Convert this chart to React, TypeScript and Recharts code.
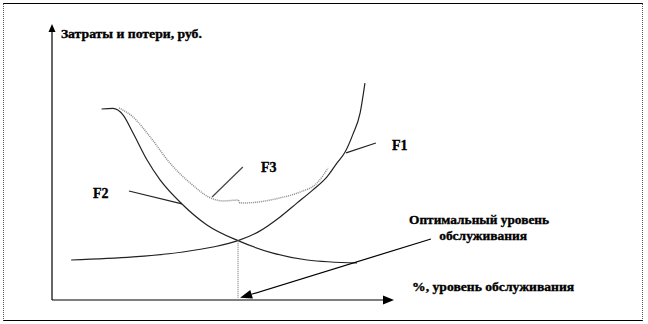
import { LineChart, Line, XAxis, YAxis, ReferenceLine, ReferenceDot } from 'recharts';

// service level (%) and costs (rub.)
const f1Level = [5.6, 23.7, 38.3, 47.1, 54.4, 60.2, 66.7, 71.6, 76.3, 80.4, 83.3, 85.7, 88.0, 90.1, 91.5];
const f1Cost = [14.5, 15.6, 17.4, 19.2, 21.5, 24.6, 30.1, 35.1, 39.9, 44.6, 49.6, 53.6, 60.1, 67.8, 78.6];

const f2Level = [14.5, 17.8, 20.8, 23.7, 27.8, 31.6, 38.0, 45.3, 54.4, 64.6, 74.6, 89.2];
const f2Cost = [69.2, 69.4, 67.0, 60.5, 50.7, 43.5, 34.8, 27.2, 21.5, 17.0, 14.5, 13.4];

const f3Level = [19.6, 23.7, 28.7, 34.5, 40.4, 47.1, 50.0, 54.4, 55.0, 60.2, 66.7, 72.5, 77.5, 80.7];
const f3Cost = [69.6, 66.3, 59.1, 49.6, 42.4, 36.6, 35.9, 36.2, 35.1, 35.5, 37.0, 39.1, 42.4, 47.8];

const optimum = { level: 54.4, cost: 21.5 };

const yTitle = 'Затраты и потери, руб.';
const xTitle = '%, уровень  обслуживания';
const optimumText = ['Оптимальный уровень', 'обслуживания'];

const zip = (xs: number[], ys: number[]) => xs.map((level, i) => ({ level, cost: ys[i] }));
const f1 = zip(f1Level, f1Cost);
const f2 = zip(f2Level, f2Cost);
const f3 = zip(f3Level, f3Cost);

const FONT = '"Liberation Serif", "Times New Roman", serif';

// line with a filled arrowhead at the second point
const arrow = (len: number, half: number, color = '#000', width = 1.2) => (props: any) => {
  const { x1, y1, x2, y2 } = props;
  const a = Math.atan2(y2 - y1, x2 - x1);
  const bx = x2 - len * Math.cos(a);
  const by = y2 - len * Math.sin(a);
  const px = -Math.sin(a) * half;
  const py = Math.cos(a) * half;
  return (
    <g>
      <line x1={x1} y1={y1} x2={bx} y2={by} stroke={color} strokeWidth={width} />
      <polygon points={`${x2},${y2} ${bx + px},${by + py} ${bx - px},${by - py}`} fill={color} />
    </g>
  );
};

const textAt = (text: string, size: number, fit?: number) => (props: any) => (
  <text
    x={props.cx}
    y={props.cy}
    fontFamily={FONT}
    fontWeight="bold"
    fontSize={size}
    fill="#000"
    stroke="#000"
    strokeWidth={0.35}
    textLength={fit}
    lengthAdjust={fit ? 'spacingAndGlyphs' : undefined}
  >
    {text}
  </text>
);

export default function App() {
  return (
    <div style={{ position: 'absolute', left: 0, top: 0, width: 648, height: 324, background: '#fff' }}>
      <div
        style={{
          position: 'absolute',
          left: 3,
          top: 3,
          width: 638,
          height: 316,
          borderTop: '1.5px solid #000',
          borderBottom: '1.5px solid #000',
          borderLeft: '1px dotted #555',
          borderRight: '1px dotted #555',
        }}
      />
      <LineChart
        width={648}
        height={324}
        margin={{ top: 24, right: 254, bottom: 24, left: 52 }}
        style={{ position: 'absolute', left: 0, top: 0 }}
      >
        <XAxis type="number" dataKey="level" domain={[0, 100]} hide />
        <YAxis type="number" dataKey="cost" domain={[0, 100]} hide />

        {/* axes */}
        <ReferenceLine segment={[{ x: 0, y: 0 }, { x: 100, y: 0 }]} ifOverflow="visible" shape={arrow(11, 4.5)} />
        <ReferenceLine segment={[{ x: 0, y: 0 }, { x: 0, y: 100 }]} ifOverflow="visible" shape={arrow(8, 3.5)} />

        <Line data={f1} dataKey="cost" type="monotone" stroke="#222" strokeWidth={1.2} dot={false} isAnimationActive={false} />
        <Line data={f2} dataKey="cost" type="monotone" stroke="#222" strokeWidth={1.2} dot={false} isAnimationActive={false} />
        <Line data={f3} dataKey="cost" type="monotone" stroke="#888" strokeWidth={1.5} strokeDasharray="1 1" dot={false} isAnimationActive={false} />

        {/* optimum drop line and pointer */}
        <ReferenceLine
          segment={[{ x: optimum.level, y: optimum.cost }, { x: optimum.level, y: 0.7 }]}
          ifOverflow="visible"
          stroke="#999"
          strokeWidth={1.5}
          strokeDasharray="1 1"
        />
        <ReferenceLine segment={[{ x: 110.8, y: 22.1 }, { x: 55.0, y: 0.8 }]} ifOverflow="visible" shape={arrow(12, 4.5)} />

        {/* leaders */}
        <ReferenceLine segment={[{ x: 86.0, y: 53.3 }, { x: 94.7, y: 56.9 }]} ifOverflow="visible" stroke="#222" strokeWidth={1.2} />
        <ReferenceLine segment={[{ x: 46.8, y: 37.3 }, { x: 55.8, y: 48.2 }]} ifOverflow="visible" stroke="#444" strokeWidth={1.2} />
        <ReferenceLine segment={[{ x: 22.5, y: 39.5 }, { x: 38.0, y: 34.8 }]} ifOverflow="visible" stroke="#222" strokeWidth={1.2} />

        {/* labels */}
        <ReferenceDot x={2.6} y={94.9} ifOverflow="visible" shape={textAt(yTitle, 13, 141)} />
        <ReferenceDot x={99.4} y={54.3} ifOverflow="visible" shape={textAt('F1', 14)} />
        <ReferenceDot x={12.0} y={37.0} ifOverflow="visible" shape={textAt('F2', 14)} />
        <ReferenceDot x={61.1} y={46.4} ifOverflow="visible" shape={textAt('F3', 14)} />
        <ReferenceDot x={104.4} y={27.5} ifOverflow="visible" shape={textAt(optimumText[0], 13, 140)} />
        <ReferenceDot x={113.2} y={21.7} ifOverflow="visible" shape={textAt(optimumText[1], 13, 88)} />
        <ReferenceDot x={105.3} y={3.3} ifOverflow="visible" shape={textAt(xTitle, 13, 162)} />
      </LineChart>
    </div>
  );
}
